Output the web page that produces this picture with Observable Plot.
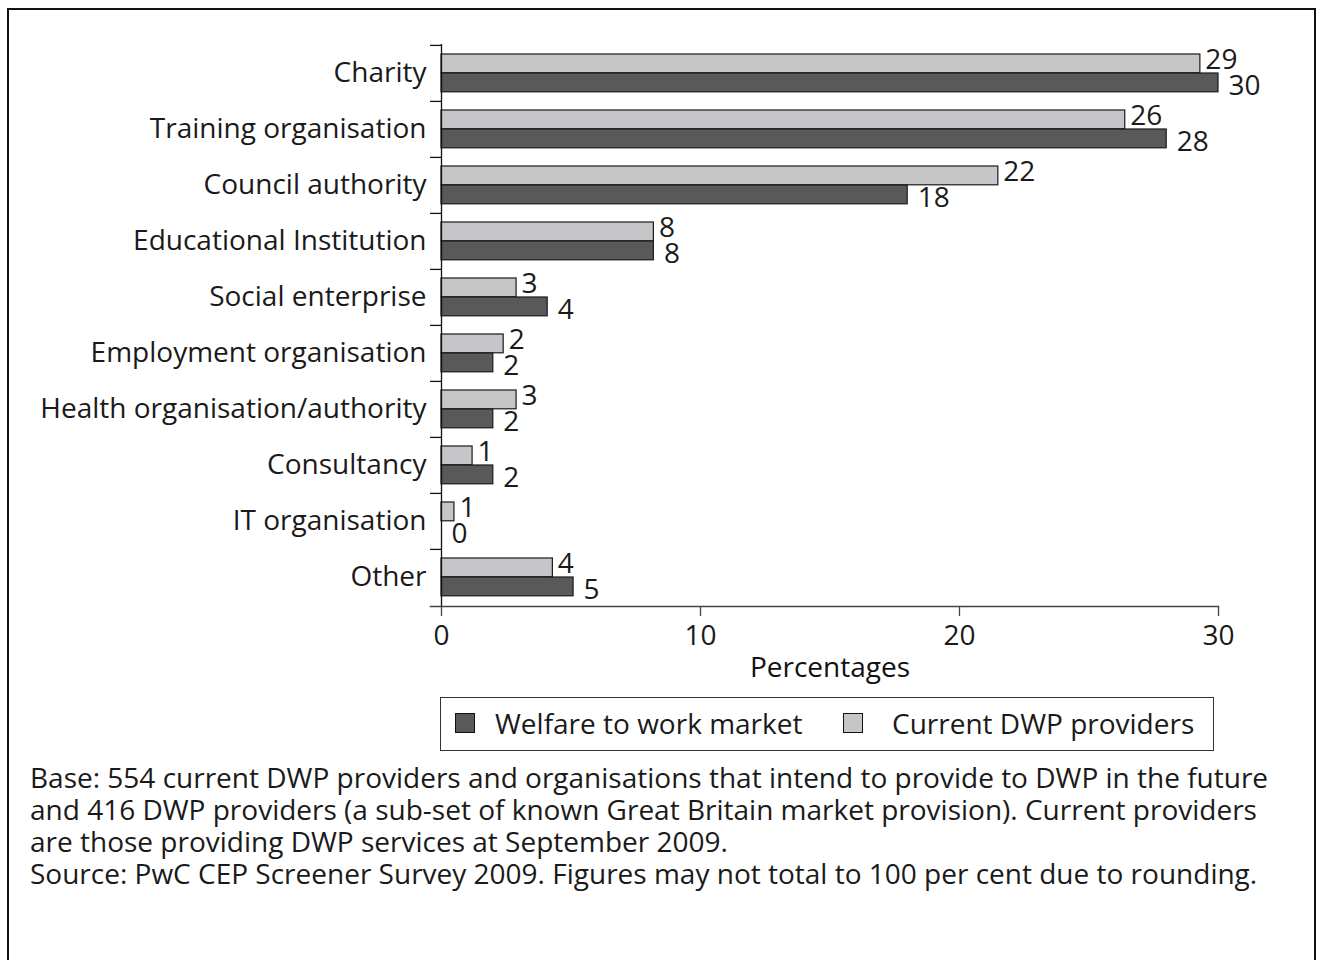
<!DOCTYPE html>
<html>
<head>
<meta charset="utf-8">
<script src="https://cdn.jsdelivr.net/npm/d3@7"></script>
<script src="https://cdn.jsdelivr.net/npm/@observablehq/plot@0.6"></script>
<style>
  html, body { margin: 0; padding: 0; background: #fff; overflow: hidden; }
  body { width: 1317px; height: 960px; position: relative; font-family: "Open Sans", sans-serif; color: #1a1a1a; }
  #frame { position: absolute; left: 7px; top: 8px; width: 1309px; height: 1000px; border: 2px solid #111; box-sizing: border-box; }
  #chart { position: absolute; left: 0; top: 0; }
  #legend { position: absolute; left: 440px; top: 697px; width: 774px; height: 54px; border: 1px solid #333; box-sizing: border-box; font-size: 28px; }
  .sw { position: absolute; top: 15px; width: 20px; height: 20px; border: 1px solid #111; box-sizing: border-box; }
  .lt { position: absolute; top: 0; line-height: 50px; white-space: nowrap; }
  #caption { position: absolute; left: 30px; top: 761px; font-size: 28px; }
  #caption div { height: 32px; line-height: 32px; white-space: nowrap; }
</style>
</head>
<body>
<div id="frame"></div>
<div id="chart"></div>
<div id="legend">
  <div class="sw" style="left:14px; background:#595959"></div>
  <div class="lt" style="left:54px">Welfare to work market</div>
  <div class="sw" style="left:402px; background:#c6c6c8"></div>
  <div class="lt" style="left:451px">Current DWP providers</div>
</div>
<div id="caption">
  <div>Base: 554 current DWP providers and organisations that intend to provide to DWP in the future</div>
  <div>and 416 DWP providers (a sub-set of known Great Britain market provision). Current providers</div>
  <div>are those providing DWP services at September 2009.</div>
  <div>Source: PwC CEP Screener Survey 2009. Figures may not total to 100 per cent due to rounding.</div>
</div>
<script>
const categories = ["Charity", "Training organisation", "Council authority", "Educational Institution", "Social enterprise", "Employment organisation", "Health organisation/authority", "Consultancy", "IT organisation", "Other"];
const welfareValues = [30.0, 28.0, 18.0, 8.2, 4.1, 2.0, 2.0, 2.0, 0, 5.1];
const welfareLabels = ["30", "28", "18", "8", "4", "2", "2", "2", "0", "5"];
const currentValues = [29.3, 26.4, 21.5, 8.2, 2.9, 2.4, 2.9, 1.2, 0.5, 4.3];
const currentLabels = ["29", "26", "22", "8", "3", "2", "3", "1", "1", "4"];
const xTicks = [0, 10, 20, 30];

const welfare = categories.map((c, i) => ({category: c, value: welfareValues[i], label: welfareLabels[i]}));
const current = categories.map((c, i) => ({category: c, value: currentValues[i], label: currentLabels[i]}));

const H = 700, MT = 44, MB = H - 606;
const step = (H - MT - MB) / categories.length;
const font = "'Open Sans', sans-serif";
const FS = 28;

const chart = Plot.plot({
  width: 1317,
  height: H,
  marginLeft: 441,
  marginRight: 99,
  marginTop: MT,
  marginBottom: MB,
  style: {fontFamily: font, fontSize: FS + "px", color: "#1a1a1a", background: "transparent"},
  x: {domain: [0, 30]},
  y: {domain: categories, padding: 0},
  marks: [
    Plot.barX(current, {x: "value", y: "category", fill: "#c6c6c8", stroke: "#1a1a1a", strokeWidth: 1.2, insetTop: 9, insetBottom: step - 28}),
    Plot.barX(welfare, {x: "value", y: "category", fill: "#595959", stroke: "#1a1a1a", strokeWidth: 1.2, insetTop: 28, insetBottom: step - 47}),
    Plot.text(current, {x: "value", y: "category", text: "label", textAnchor: "start", dx: 5, dy: -13, fontSize: FS, fill: "#1a1a1a"}),
    Plot.text(welfare, {x: "value", y: "category", text: "label", textAnchor: "start", dx: 10, dy: 13, fontSize: FS, fill: "#1a1a1a"}),
    Plot.ruleX([0], {stroke: "#111", strokeWidth: 1.3}),
    Plot.axisY({tickSize: 11, dy: -step / 2, tickFormat: () => "", label: null, stroke: "#111", strokeWidth: 1.3}),
    Plot.axisY({tickSize: 0, tickPadding: 15, fontSize: FS, label: null, fill: "#1a1a1a"}),
    Plot.frame({anchor: "bottom", insetLeft: -11, stroke: "#444", strokeWidth: 1.5}),
    Plot.axisX({ticks: xTicks, tickSize: 10, tickPadding: 9, fontSize: FS, label: null, stroke: "#444", strokeWidth: 1.3, fill: "#1a1a1a"}),
    Plot.text(["Percentages"], {frameAnchor: "bottom", dy: 70, fontSize: FS, fontWeight: 500, fill: "#111"})
  ]
});
document.getElementById("chart").appendChild(chart);
</script>
</body>
</html>
